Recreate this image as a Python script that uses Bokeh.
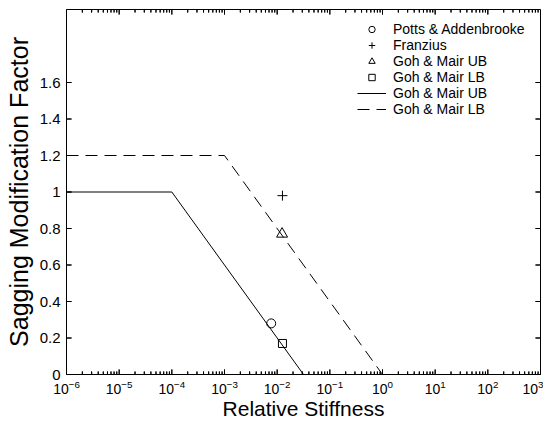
import math
from bokeh.plotting import figure
from bokeh.models import Range1d, FixedTicker, CustomJSTickFormatter, Legend, LegendItem
from bokeh.embed import file_html
from bokeh.resources import INLINE

# ---- data ----
potts_x = [0.0077]
potts_y = [0.28]
franz_x = [0.0126]
franz_y = [0.98]
gohub_x = [0.0124]
gohub_y = [0.77]
gohlb_x = [0.0126]
gohlb_y = [0.17]

ub_line_x = [1e-6, 1e-4, 10 ** -1.5, 1e3]
ub_line_y = [1.0, 1.0, 0.0, 0.0]
lb_line_x = [1e-6, 1e-3, 1.0, 1e3]
lb_line_y = [1.2, 1.2, 0.0, 0.0]

x_lo, x_hi = 1e-6, 1e3
y_lo, y_hi = 0.0, 2.0
x_major = [10.0 ** k for k in range(-6, 4)]
x_minor = [m * 10.0 ** k for k in range(-6, 3) for m in range(2, 10)]
y_major = [0, 0.2, 0.4, 0.6, 0.8, 1.0, 1.2, 1.4, 1.6]

FONT = "Liberation Sans"

# layout (screen px)
W, H = 543, 424
B_LEFT, B_RIGHT, B_TOP, B_BOTTOM = 66, 3, 9, 50
FRAME_W = W - B_LEFT - B_RIGHT
FRAME_H = H - B_TOP - B_BOTTOM
TICK_MAJOR, TICK_MINOR = 5, 3

p = figure(width=W, height=H, x_axis_type="log",
           x_range=Range1d(x_lo, x_hi), y_range=Range1d(y_lo, y_hi),
           output_backend="svg", toolbar_location=None,
           min_border_left=B_LEFT, min_border_right=B_RIGHT,
           min_border_top=B_TOP, min_border_bottom=B_BOTTOM)

p.xgrid.visible = False
p.ygrid.visible = False
p.outline_line_color = "black"
p.outline_line_width = 1
p.background_fill_color = "white"
p.border_fill_color = "white"

xt = FixedTicker(ticks=x_major, minor_ticks=x_minor)
yt = FixedTicker(ticks=y_major, minor_ticks=[])

def style(ax):
    ax.axis_line_color = "black"
    ax.major_tick_line_color = None
    ax.minor_tick_line_color = None
    ax.major_tick_in = 0
    ax.major_tick_out = 0
    ax.minor_tick_in = 0
    ax.minor_tick_out = 0
    ax.major_label_text_font = FONT
    ax.major_label_text_font_size = "15px"
    ax.major_label_text_color = "black"
    ax.axis_label_text_font = FONT
    ax.axis_label_text_font_style = "normal"
    ax.axis_label_text_color = "black"

xa = p.xaxis[0]
xa.ticker = xt
style(xa)
xa.major_label_text_font_size = "14px"
xa.axis_label = "Relative Stiffness"
xa.axis_label_text_font_size = "21px"
xa.major_label_standoff = 5
xa.axis_label_standoff = 0

ya = p.yaxis[0]
ya.ticker = yt
style(ya)
ya.formatter = CustomJSTickFormatter(code="return Number(tick.toFixed(1)).toString();")
ya.axis_label = "Sagging Modification Factor"
ya.axis_label_text_font_size = "25px"
ya.major_label_standoff = 6
ya.axis_label_standoff = 4

r_potts = p.scatter(potts_x, potts_y, marker="circle", size=9, fill_color=None, line_color="black")
r_franz = p.scatter(franz_x, franz_y, marker="cross", size=10, line_color="black")
r_gohub = p.scatter(gohub_x, gohub_y, marker="triangle", size=11, fill_color=None, line_color="black")
r_gohlb = p.scatter(gohlb_x, gohlb_y, marker="square", size=8, fill_color=None, line_color="black")
r_ub = p.line(ub_line_x, ub_line_y, line_color="black", line_width=1)
r_lb = p.line(lb_line_x, lb_line_y, line_color="black", line_width=1, line_dash="12 7")

# inward tick marks on all four sides, built from the tick lists
lx0, lx1 = math.log10(x_lo), math.log10(x_hi)
fx = 10 ** ((lx1 - lx0) / FRAME_W * TICK_MAJOR)
dy_maj = (y_hi - y_lo) / FRAME_H * TICK_MAJOR
dy_min = (y_hi - y_lo) / FRAME_H * TICK_MINOR

tick_xs, tick_ys = [], []
for yv in y_major:
    tick_xs += [[x_lo, x_lo * fx], [x_hi, x_hi / fx]]
    tick_ys += [[yv, yv], [yv, yv]]
for xv in x_major:
    tick_xs += [[xv, xv], [xv, xv]]
    tick_ys += [[y_lo, y_lo + dy_maj], [y_hi, y_hi - dy_maj]]
for xv in x_minor:
    tick_xs += [[xv, xv], [xv, xv]]
    tick_ys += [[y_lo, y_lo + dy_min], [y_hi, y_hi - dy_min]]

p.multi_line(tick_xs, tick_ys, line_color="black", line_width=1)

nan = float("nan")
flat_x, flat_y = [], []
for xs_, ys_ in zip(tick_xs, tick_ys):
    flat_x += xs_ + [nan]
    flat_y += ys_ + [nan]
p.line(flat_x, flat_y, line_color="black", line_width=1)

legend = Legend(items=[
    LegendItem(label="Potts & Addenbrooke", renderers=[r_potts]),
    LegendItem(label="Franzius", renderers=[r_franz]),
    LegendItem(label="Goh & Mair UB", renderers=[r_gohub]),
    LegendItem(label="Goh & Mair LB", renderers=[r_gohlb]),
    LegendItem(label="Goh & Mair UB", renderers=[r_ub]),
    LegendItem(label="Goh & Mair LB", renderers=[r_lb]),
], location=(291, FRAME_H - 12 - 96))
legend.label_text_font = FONT
legend.label_text_font_size = "14px"
legend.label_text_color = "black"
legend.label_height = 16
legend.glyph_height = 16
legend.glyph_width = 29
legend.label_standoff = 7
legend.spacing = 0
legend.padding = 0
legend.margin = 0
legend.border_line_alpha = 0
legend.background_fill_alpha = 0
p.add_layout(legend)

open("out.html", "w").write(file_html(p, INLINE))
